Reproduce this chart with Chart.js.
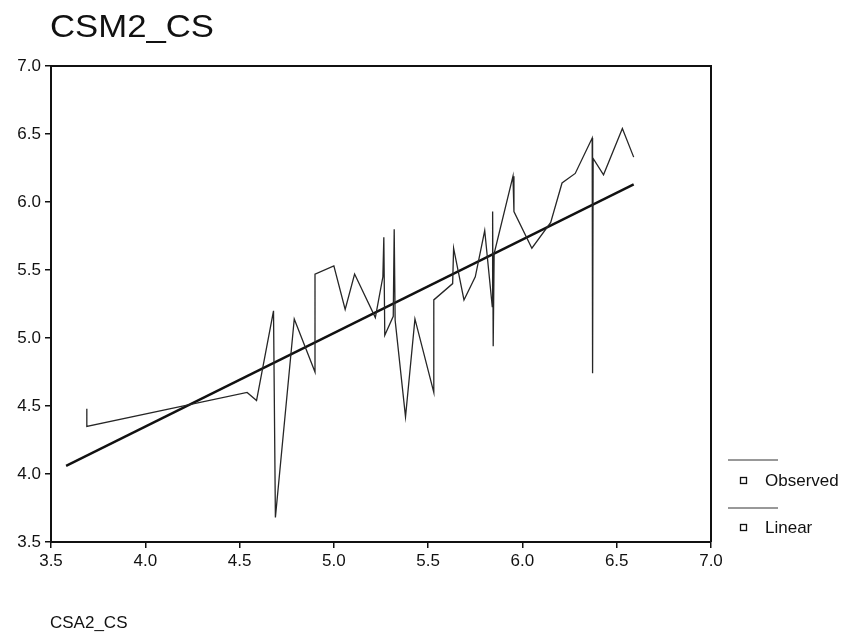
<!DOCTYPE html>
<html>
<head>
<meta charset="utf-8">
<script src="https://cdn.jsdelivr.net/npm/chart.js@4.4.1/dist/chart.umd.min.js"></script>
<style>
  html, body { margin: 0; padding: 0; background: #ffffff; }
  #wrap { width: 848px; height: 635px; position: relative; }
</style>
</head>
<body>
<div id="wrap"><canvas id="c" width="848" height="635"></canvas></div>
<script>
// ---- chart data ----
const chartTitle = "CSM2_CS";
const xAxisTitle = "CSA2_CS";
const seriesNames = ["Observed", "Linear"];
const xTicks = [3.5, 4.0, 4.5, 5.0, 5.5, 6.0, 6.5, 7.0];
const yTicks = [3.5, 4.0, 4.5, 5.0, 5.5, 6.0, 6.5, 7.0];

const observedX = [3.69, 3.69, 4.54, 4.59, 4.68, 4.69, 4.79, 4.90, 4.90, 5.00, 5.06, 5.11,
                   5.22, 5.26, 5.265, 5.27, 5.315, 5.32, 5.325, 5.38, 5.43, 5.53, 5.53,
                   5.63, 5.635, 5.69, 5.75, 5.80, 5.84, 5.842, 5.845, 5.85, 5.95, 5.955,
                   6.05, 6.15, 6.21, 6.28, 6.37, 6.372, 6.375, 6.43, 6.53, 6.59];
const observedY = [4.48, 4.35, 4.60, 4.54, 5.20, 3.68, 5.14, 4.75, 5.47, 5.53, 5.21, 5.47,
                   5.15, 5.45, 5.74, 5.02, 5.16, 5.80, 5.13, 4.42, 5.14, 4.60, 5.28,
                   5.40, 5.66, 5.28, 5.45, 5.79, 5.23, 5.93, 4.94, 5.62, 6.19, 5.93,
                   5.66, 5.85, 6.14, 6.21, 6.47, 4.74, 6.32, 6.20, 6.54, 6.33];

const linearX = [3.58, 6.59];
const linearY = [4.06, 6.13];

// ---- helpers ----
const FONT = "'Liberation Sans', Arial, sans-serif";
const INK = "#111111";
const toPoints = (xs, ys) => xs.map((x, i) => ({ x: x, y: ys[i] }));

const framePlugin = {
  id: "framePlugin",
  afterDraw(chart) {
    const ctx = chart.ctx;
    const a = chart.chartArea;
    ctx.save();
    // frame
    ctx.strokeStyle = INK;
    ctx.lineWidth = 2;
    ctx.beginPath();
    ctx.moveTo(a.left, a.bottom);
    ctx.lineTo(a.left, a.top);
    ctx.lineTo(a.right, a.top);
    ctx.lineTo(a.right, a.bottom);
    ctx.stroke();

    // title (slightly wide face, as in the reference)
    ctx.fillStyle = INK;
    ctx.textAlign = "left";
    ctx.textBaseline = "alphabetic";
    ctx.font = "31px " + FONT;
    ctx.save();
    ctx.translate(50, 37);
    ctx.scale(1.12, 1);
    ctx.fillText(chartTitle, 0, 0);
    ctx.restore();

    // x axis title
    ctx.font = "17px " + FONT;
    ctx.fillText(xAxisTitle, 50, 628);

    // legend
    const ds = chart.data.datasets;
    const legendRows = [{ lineY: 460, textY: 481 }, { lineY: 508, textY: 528 }];
    ds.forEach((d, i) => {
      const r = legendRows[i];
      ctx.strokeStyle = "#333333";
      ctx.lineWidth = 1;
      ctx.beginPath();
      ctx.moveTo(728, r.lineY);
      ctx.lineTo(778, r.lineY);
      ctx.stroke();
      ctx.lineWidth = 1.3;
      ctx.strokeStyle = INK;
      ctx.strokeRect(740.5, r.textY - 3.5, 6, 6);
      ctx.fillStyle = INK;
      ctx.font = "17px " + FONT;
      ctx.textBaseline = "middle";
      ctx.fillText(d.label, 765, r.textY);
    });
    ctx.restore();
  }
};

const tickFont = { family: FONT, size: 17 };

new Chart(document.getElementById("c"), {
  type: "scatter",
  data: {
    datasets: [
      {
        label: seriesNames[0],
        data: toPoints(observedX, observedY),
        showLine: true,
        borderColor: "#262626",
        borderWidth: 1.3,
        pointRadius: 0,
        tension: 0,
        fill: false
      },
      {
        label: seriesNames[1],
        data: toPoints(linearX, linearY),
        showLine: true,
        borderColor: "#111111",
        borderWidth: 2.4,
        pointRadius: 0,
        tension: 0,
        fill: false
      }
    ]
  },
  options: {
    responsive: false,
    animation: false,
    devicePixelRatio: 1,
    layout: { padding: { left: 0, top: 66, right: 137, bottom: 0 } },
    plugins: {
      legend: { display: false },
      title: { display: false },
      tooltip: { enabled: false }
    },
    scales: {
      x: {
        type: "linear",
        min: 3.5,
        max: 7.0,
        afterBuildTicks: s => { s.ticks = xTicks.map(v => ({ value: v })); },
        afterFit: s => { s.height = 93; },
        ticks: {
          callback: v => Number(v).toFixed(1),
          font: tickFont,
          color: INK,
          padding: 3,
          maxRotation: 0,
          autoSkip: false
        },
        grid: { drawOnChartArea: false, drawTicks: true, tickLength: 6, color: INK, lineWidth: 1.5 },
        border: { display: true, color: INK, width: 2 }
      },
      y: {
        type: "linear",
        min: 3.5,
        max: 7.0,
        afterBuildTicks: s => { s.ticks = yTicks.map(v => ({ value: v })); },
        afterFit: s => { s.width = 51; },
        ticks: {
          callback: v => Number(v).toFixed(1),
          font: tickFont,
          color: INK,
          padding: 4,
          autoSkip: false
        },
        grid: { drawOnChartArea: false, drawTicks: true, tickLength: 6, color: INK, lineWidth: 1.5 },
        border: { display: true, color: INK, width: 2 }
      }
    }
  },
  plugins: [framePlugin]
});
</script>
</body>
</html>
